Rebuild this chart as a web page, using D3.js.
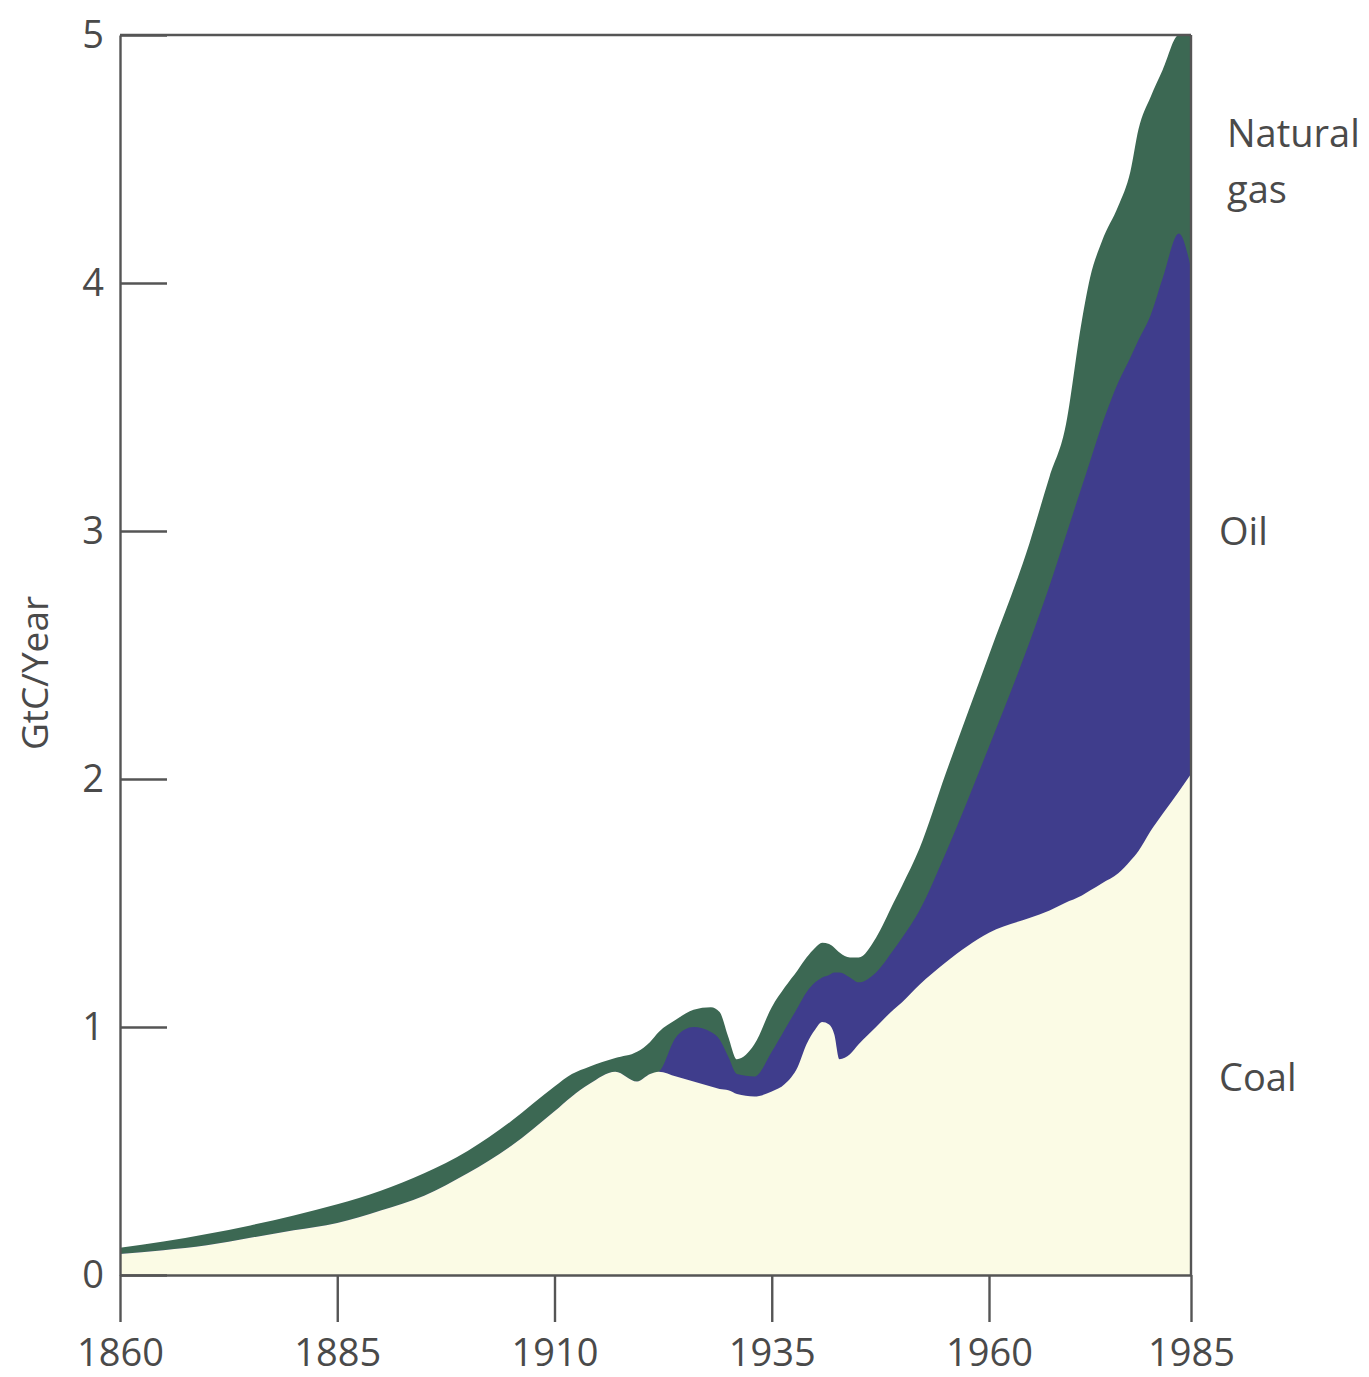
<!DOCTYPE html>
<html>
<head>
<meta charset="utf-8">
<script src="https://cdn.jsdelivr.net/npm/d3@7"></script>
<style>
  html, body { margin: 0; padding: 0; background: #ffffff; }
  svg { display: block; }
  text { font-family: "Open Sans", "Noto Sans", sans-serif; fill: #4a4a4a; }
</style>
</head>
<body>
<svg id="chart" width="1369" height="1377"></svg>
<script>
// ---- Data (GtC/Year, layer thickness) ----
const years = [1860, 1865, 1870, 1875, 1880, 1885, 1890, 1895, 1900, 1905, 1910, 1912, 1914, 1917,
  1919.5, 1921, 1922, 1924, 1926, 1928, 1929, 1930, 1931, 1933, 1935, 1936.5, 1938, 1939, 1940, 1940.8,
  1941.6, 1942.2, 1942.8, 1944, 1945, 1947, 1949, 1950, 1952, 1955, 1960, 1965, 1967.5, 1969.4,
  1971.5, 1972.5, 1974, 1976, 1977.5, 1978.5, 1980, 1981.5, 1983.5, 1985];
const coal = [0.085, 0.10, 0.12, 0.15, 0.18, 0.21, 0.26, 0.32, 0.41, 0.52, 0.66, 0.72, 0.77, 0.82,
  0.78, 0.81, 0.82, 0.80, 0.78, 0.76, 0.75, 0.745, 0.73, 0.72, 0.74, 0.77, 0.84, 0.93, 0.99, 1.02,
  1.01, 0.97, 0.87, 0.89, 0.93, 1.00, 1.07, 1.10, 1.17, 1.26, 1.38, 1.44, 1.47, 1.50,
  1.53, 1.55, 1.58, 1.62, 1.67, 1.71, 1.79, 1.86, 1.95, 2.02];
const oil = [0, 0, 0, 0, 0, 0, 0, 0, 0, 0, 0, 0, 0, 0,
  0, 0, 0, 0.16, 0.22, 0.22, 0.20, 0.135, 0.08, 0.08, 0.16, 0.22, 0.24, 0.21, 0.19, 0.18,
  0.20, 0.25, 0.35, 0.31, 0.25, 0.22, 0.24, 0.26, 0.30, 0.44, 0.75, 1.11, 1.31, 1.47,
  1.65, 1.73, 1.85, 1.98, 2.03, 2.06, 2.08, 2.16, 2.25, 2.04];
const gas = [0.025, 0.035, 0.045, 0.05, 0.06, 0.075, 0.08, 0.09, 0.09, 0.10, 0.10, 0.09, 0.07, 0.055,
  0.12, 0.13, 0.16, 0.07, 0.07, 0.10, 0.11, 0.08, 0.06, 0.13, 0.18, 0.17, 0.15, 0.14, 0.14, 0.14,
  0.125, 0.10, 0.08, 0.08, 0.10, 0.14, 0.19, 0.21, 0.25, 0.32, 0.37, 0.40, 0.44, 0.44,
  0.67, 0.74, 0.74, 0.71, 0.75, 0.85, 0.88, 0.84, 0.80, 0.94];
const xTickValues = [1860, 1885, 1910, 1935, 1960, 1985];
const yTickValues = [0, 1, 2, 3, 4, 5];
const seriesKeys = ["coal", "oil", "gas"];
const seriesLabels = { coal: ["Coal"], oil: ["Oil"], gas: ["Natural", "gas"] };
const colors = { coal: "#fbfbe5", oil: "#3f3d8c", gas: "#3c6853" };

// ---- Build table ----
const rows = years.map((yr, i) => ({ year: yr, coal: coal[i], oil: oil[i], gas: gas[i] }));
const stacked = d3.stack().keys(seriesKeys)(rows);

const svg = d3.select("#chart");
const x = d3.scaleLinear().domain([1860, 1960, 1985]).range([120, 989, 1191]);
const y = d3.scaleLinear().domain([0, 5]).range([1275, 35]);

// Draw cumulative areas, top-most layer first (painter's order)
const area = d3.area()
  .x(d => x(d.data.year))
  .y0(y(0))
  .y1(d => y(Math.min(5, d[1])))
  .curve(d3.curveMonotoneX);

svg.append("g").selectAll("path")
  .data(stacked.slice().reverse())
  .join("path")
  .attr("d", area)
  .attr("fill", d => colors[d.key]);

// ---- Axes ----
const axisColor = "#555555";
const xAxis = svg.append("g")
  .attr("transform", `translate(0,${y(0)})`)
  .call(d3.axisBottom(x).tickValues(xTickValues).tickFormat(d3.format("d"))
    .tickSize(47).tickSizeOuter(0).tickPadding(17));
const yAxis = svg.append("g")
  .attr("transform", `translate(${x(1860)},0)`)
  .call(d3.axisLeft(y).tickValues(yTickValues).tickFormat(d3.format("d"))
    .tickSize(-47).tickSizeOuter(0).tickPadding(16));

[xAxis, yAxis].forEach(g => {
  g.selectAll("path, line").attr("stroke", axisColor).attr("stroke-width", 2.4);
  g.selectAll("text").attr("font-size", 38).attr("fill", "#4a4a4a")
    .style("font-family", '"Open Sans", "Noto Sans", sans-serif');
});

// Frame: top and right edges
svg.append("line")
  .attr("x1", x(1860)).attr("x2", x(1985))
  .attr("y1", y(5)).attr("y2", y(5))
  .attr("stroke", axisColor).attr("stroke-width", 2.4);
svg.append("line")
  .attr("x1", x(1985)).attr("x2", x(1985))
  .attr("y1", y(5)).attr("y2", y(0))
  .attr("stroke", axisColor).attr("stroke-width", 2.4);

// Y axis title
svg.append("text")
  .attr("transform", `translate(48,${(y(0) + y(5)) / 2 + 18}) rotate(-90)`)
  .attr("text-anchor", "middle")
  .attr("font-size", 37)
  .text("GtC/Year");

// Series labels on the right
const labelX = x(1985) + 28;
const labelPos = { gas: y(4.55), oil: y(3) + 14, coal: y(0.8) + 14 };
seriesKeys.forEach(k => {
  const t = svg.append("text")
    .attr("x", k === "gas" ? labelX + 8 : labelX)
    .attr("y", labelPos[k])
    .attr("font-size", 38);
  seriesLabels[k].forEach((line, i) => {
    t.append("tspan")
      .attr("x", k === "gas" ? labelX + 8 : labelX)
      .attr("dy", i === 0 ? 0 : 56)
      .text(line);
  });
});
</script>
</body>
</html>
